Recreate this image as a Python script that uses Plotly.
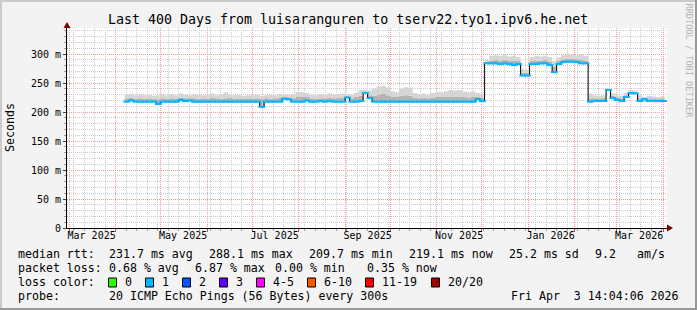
import pandas as pd
import plotly.graph_objects as go

W, H = 697, 310
PL, PR, PT, PB = 67, 667, 28, 228  # plot-area pixel box

x_start = "2025-02-27 14:04:06"
x_end = "2026-04-03 14:04:06"
sample_start = "2025-04-07"
sample_step_days = 3

median_ms = [
    218, 220, 218, 218, 218, 218, 218, 214, 218, 218,
    218, 218, 221, 219, 220, 218, 218, 218, 218, 218,
    218, 218, 218, 218, 218, 218, 218, 218, 218, 218,
    209, 218, 218, 218, 218, 223, 222, 218, 218, 218,
    220, 218, 218, 219, 218, 219, 218, 218, 218, 225,
    218, 218, 219, 233, 224, 218, 218, 218, 218, 218,
    218, 218, 218, 218, 218, 218, 218, 218, 218, 218,
    218, 218, 218, 218, 218, 218, 218, 218, 222, 219,
    284, 284, 284, 283, 284, 283, 281, 283, 263, 263,
    283, 283, 284, 284, 281, 269, 283, 286, 287, 287,
    286, 284, 284, 218, 219, 219, 219, 238, 224, 221,
    219, 226, 233, 232, 219, 222, 219, 219, 219, 219,
    219,
]

smoke_mid_ms = [
    224, 225, 223, 224, 223, 224, 223, 222, 224, 223,
    224, 223, 225, 224, 224, 224, 223, 224, 223, 225,
    224, 223, 224, 225, 223, 224, 223, 224, 223, 224,
    223, 224, 223, 224, 225, 226, 225, 224, 227, 226,
    226, 224, 223, 224, 224, 225, 224, 225, 225, 228,
    224, 226, 228, 235, 229, 228, 230, 231, 229, 227,
    226, 228, 229, 228, 225, 224, 225, 224, 225, 226,
    226, 227, 227, 226, 227, 226, 225, 226, 226, 225,
    286, 289, 290, 289, 290, 289, 288, 288, 268, 268,
    288, 289, 289, 290, 287, 278, 288, 291, 292, 292,
    291, 290, 289, 224, 224, 224, 224, 240, 228, 225,
    224, 229, 235, 235, 224, 225, 224, 224, 223, 224,
    223,
]

smoke_max_ms = [
    230, 231, 229, 230, 229, 230, 228, 229, 230, 229,
    231, 229, 232, 230, 229, 231, 230, 229, 230, 232,
    229, 230, 234, 230, 229, 230, 228, 229, 229, 230,
    228, 229, 230, 229, 231, 230, 230, 231, 235, 234,
    233, 230, 229, 231, 230, 232, 230, 231, 232, 231,
    230, 233, 238, 238, 237, 240, 244, 246, 243, 236,
    234, 240, 243, 242, 233, 231, 232, 230, 233, 235,
    234, 236, 238, 237, 238, 235, 234, 236, 233, 232,
    290, 297, 298, 297, 298, 296, 297, 295, 274, 273,
    295, 297, 296, 297, 295, 288, 294, 298, 301, 299,
    298, 300, 297, 232, 229, 228, 229, 241, 232, 229,
    228, 233, 238, 237, 229, 226, 228, 227, 226, 227,
    226,
]

y_tick_vals = [0, 0.05, 0.10, 0.15, 0.20, 0.25, 0.30]
y_tick_text = ["0", "50 m", "100 m", "150 m", "200 m", "250 m", "300 m"]

x_label_months = ["2025-03-01", "2025-05-01", "2025-07-01", "2025-09-01",
                  "2025-11-01", "2026-01-01", "2026-03-01"]
x_label_text = ["Mar 2025", "May 2025", "Jul 2025", "Sep 2025",
                "Nov 2025", "Jan 2026", "Mar 2026"]

title_text = "Last 400 Days from luisaranguren to tserv22.tyo1.ipv6.he.net"
stats_rows = [
    ("median rtt:", 16, 254.3), ("231.7 ms avg", 107.3, 254.3), ("288.1 ms max", 207.3, 254.3),
    ("209.7 ms min", 307.3, 254.3), ("219.1 ms now", 407.3, 254.3), ("25.2 ms sd", 506.7, 254.3),
    ("9.2", 593.3, 254.3), ("am/s", 635, 254.3),
    ("packet loss:", 16, 268.3), ("0.68 % avg", 107.3, 268.3), ("6.87 % max", 193.3, 268.3),
    ("0.00 % min", 273.3, 268.3), ("0.35 % now", 365, 268.3),
    ("loss color:", 16, 282.3),
    ("probe:", 16, 296.2), ("20 ICMP Echo Pings (56 Bytes) every 300s", 107.3, 296.2),
]
loss_labels = ["0", "1", "2", "3", "4-5", "6-10", "11-19", "20/20"]
loss_colors = ["#26ff00", "#00b8ff", "#0059ff", "#5e00ff", "#ff00ff",
               "#ff5500", "#ff0000", "#a10000"]
loss_box_px = [108, 145, 182, 219, 256, 307, 365, 431]
date_text = "Fri Apr  3 14:04:06 2026"

MONO = "DejaVu Sans Mono"
GRID_MINOR = "#cdcdcd"
GRID_MAJOR = "#f19a9a"

dates = pd.date_range(sample_start, periods=len(median_ms), freq=f"{sample_step_days}D")
marker_dates = dates + pd.Timedelta(days=sample_step_days / 2)
med_s = [v / 1000 for v in median_ms]
mid_s = [v / 1000 for v in smoke_mid_ms]
max_s = [v / 1000 for v in smoke_max_ms]

month_lines = pd.date_range("2025-03-01", "2026-04-01", freq="MS")
label_pos = [pd.Timestamp(m) + pd.Timedelta(days=15) for m in x_label_months]


def px(x):
    return (x - PL) / (PR - PL)


def py(y):
    return (PB - y) / (PB - PT)


def nb(s):
    return s.replace(" ", "\u00a0")


fig = go.Figure()
fig.add_trace(go.Scatter(x=dates, y=med_s, mode="lines", line=dict(width=0, shape="hv"),
                         hoverinfo="skip", showlegend=False))
fig.add_trace(go.Scatter(x=dates, y=mid_s, mode="lines", line=dict(width=0, shape="hv"),
                         fill="tonexty", fillcolor="#b4b4b4", hoverinfo="skip", showlegend=False))
fig.add_trace(go.Scatter(x=dates, y=max_s, mode="lines", line=dict(width=0, shape="hv"),
                         fill="tonexty", fillcolor="#d6d6d6", hoverinfo="skip", showlegend=False))
fig.add_trace(go.Scatter(x=dates, y=med_s, mode="lines", line=dict(width=1, shape="hv", color="#000000"),
                         hoverinfo="skip", showlegend=False))
fig.add_trace(go.Scatter(x=marker_dates, y=med_s, mode="markers",
                         marker=dict(symbol="line-ew", size=5, color=loss_colors[1],
                                     line=dict(width=2, color=loss_colors[1])),
                         hoverinfo="skip", showlegend=False))
# invisible anchor traces so the overlay axes (major grid, labels) get drawn
for xa, ya in [("x2", "y"), ("x3", "y"), ("x", "y2")]:
    fig.add_trace(go.Scatter(x=[dates[0]], y=[med_s[0]], xaxis=xa, yaxis=ya, mode="markers",
                             marker=dict(opacity=0, size=1), hoverinfo="skip", showlegend=False))

annotations = []
shapes = []

annotations.append(dict(text=title_text, x=px(347.5), y=py(19), xref="paper", yref="paper",
                        xanchor="center", yanchor="middle", showarrow=False,
                        font=dict(family=MONO, size=13.3, color="#000")))
annotations.append(dict(text="Seconds", x=px(10), y=py(128), xref="paper", yref="paper",
                        xanchor="center", yanchor="middle", showarrow=False, textangle=-90,
                        font=dict(family=MONO, size=11.6, color="#000")))
annotations.append(dict(text="RRDTOOL / TOBI OETIKER", x=px(688.5), y=py(61), xref="paper", yref="paper",
                        xanchor="center", yanchor="middle", showarrow=False, textangle=90,
                        font=dict(family=MONO, size=8.6, color="#b4b4b4")))
for txt, xx, yy in stats_rows:
    annotations.append(dict(text=nb(txt), x=px(xx), y=py(yy), xref="paper", yref="paper",
                            xanchor="left", yanchor="middle", showarrow=False,
                            font=dict(family=MONO, size=11.6, color="#000")))
annotations.append(dict(text=nb(date_text), x=px(681), y=py(296.2), xref="paper", yref="paper",
                        xanchor="right", yanchor="middle", showarrow=False,
                        font=dict(family=MONO, size=11.6, color="#000")))
for lab, col, bx in zip(loss_labels, loss_colors, loss_box_px):
    shapes.append(dict(type="rect", xref="paper", yref="paper",
                       x0=px(bx + 0.5), x1=px(bx + 8.5), y0=py(278), y1=py(287),
                       fillcolor=col, line=dict(color="#000", width=1)))
    annotations.append(dict(text=nb(lab), x=px(bx + 15), y=py(282.3), xref="paper", yref="paper",
                            xanchor="left", yanchor="middle", showarrow=False,
                            font=dict(family=MONO, size=11.6, color="#000")))

shapes.append(dict(type="path", xref="paper", yref="paper", xsizemode="pixel", ysizemode="pixel",
                   xanchor=0, yanchor=1, path="M -3.5,0 L 3.5,0 L 0,6 Z",
                   fillcolor="#7f0000", line=dict(width=0)))
shapes.append(dict(type="path", xref="paper", yref="paper", xsizemode="pixel", ysizemode="pixel",
                   xanchor=1, yanchor=0, path="M 0,3.5 L 0,-3.5 L 6,0 Z",
                   fillcolor="#7f0000", line=dict(width=0)))
shapes.append(dict(type="line", xref="paper", yref="paper", x0=px(0), x1=px(W), y0=py(1), y1=py(1),
                   line=dict(color="#cbcbcb", width=2)))
shapes.append(dict(type="line", xref="paper", yref="paper", x0=px(1), x1=px(1), y0=py(0), y1=py(H),
                   line=dict(color="#cbcbcb", width=2)))
shapes.append(dict(type="line", xref="paper", yref="paper", x0=px(0), x1=px(W), y0=py(H - 1), y1=py(H - 1),
                   line=dict(color="#999999", width=2)))
shapes.append(dict(type="line", xref="paper", yref="paper", x0=px(W - 1), x1=px(W - 1), y0=py(0), y1=py(H),
                   line=dict(color="#999999", width=2)))

fig.update_layout(
    width=W, height=H,
    margin=dict(l=PL, r=W - PR, t=PT, b=H - PB, pad=0),
    paper_bgcolor="#f3f3f3", plot_bgcolor="#ffffff",
    showlegend=False,
    font=dict(family=MONO, size=10, color="#000"),
    xaxis=dict(type="date", range=[x_start, x_end], tickmode="linear", tick0="2025-03-11",
               dtick=7 * 86400000, showticklabels=False, ticks="outside", ticklen=2, tickcolor="#a0a0a0",
               showgrid=True, gridcolor=GRID_MINOR, griddash="1px,1px", gridwidth=1,
               showline=True, linecolor="#000", linewidth=1, zeroline=False, fixedrange=True),
    xaxis2=dict(type="date", range=[x_start, x_end], overlaying="x", anchor="y", side="bottom",
                tickmode="array", tickvals=list(month_lines), ticktext=[""] * len(month_lines),
                ticks="outside", ticklen=3, tickcolor="#e04040",
                showgrid=True, gridcolor=GRID_MAJOR, griddash="1px,1px", gridwidth=1,
                showline=False, zeroline=False, fixedrange=True),
    xaxis3=dict(type="date", range=[x_start, x_end], overlaying="x", anchor="y", side="bottom",
                tickmode="array", tickvals=label_pos, ticktext=x_label_text, ticks="",
                showgrid=False, showline=False, zeroline=False, fixedrange=True,
                tickfont=dict(family=MONO, size=10, color="#000")),
    yaxis=dict(range=[0, 0.345], tickmode="linear", tick0=0, dtick=0.01, showticklabels=False,
               ticks="outside", ticklen=2, tickcolor="#a0a0a0",
               showgrid=True, gridcolor=GRID_MINOR, griddash="1px,1px", gridwidth=1,
               showline=True, linecolor="#000", linewidth=1, zeroline=False, fixedrange=True),
    yaxis2=dict(range=[0, 0.345], overlaying="y", anchor="x", side="left",
                tickmode="array", tickvals=y_tick_vals, ticktext=y_tick_text,
                ticks="outside", ticklen=3, tickcolor="#404040",
                showgrid=True, gridcolor=GRID_MAJOR, griddash="1px,1px", gridwidth=1,
                showline=False, zeroline=False, fixedrange=True,
                tickfont=dict(family=MONO, size=10, color="#000")),
    annotations=annotations,
    shapes=shapes,
)

fig.write_html("out.html")
